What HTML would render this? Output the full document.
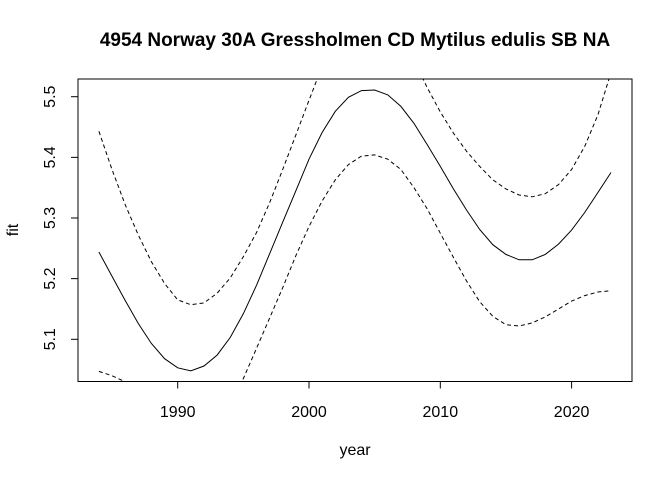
<!DOCTYPE html>
<html><head><meta charset="utf-8"><style>
html,body{margin:0;padding:0;background:#fff;}
svg{display:block;font-family:"Liberation Sans",Arial,sans-serif;}
</style></head><body>
<svg id="chart" width="672" height="480">
<defs><clipPath id="pc"><rect x="78" y="79" width="554" height="302.5"/></clipPath></defs>
<text x="355" y="46" text-anchor="middle" font-size="19" font-weight="bold">4954 Norway 30A Gressholmen CD Mytilus edulis SB NA</text>
<rect x="78" y="79" width="554" height="302.5" fill="none" stroke="#000" stroke-width="1"/>
<g id="xaxis"></g>
<g id="yaxis"></g>
<text x="355" y="455" text-anchor="middle" font-size="16">year</text>
<text x="0" y="0" transform="translate(18,230) rotate(-90)" text-anchor="middle" font-size="16">fit</text>
<g id="series" clip-path="url(#pc)"></g>
</svg>
<script>
const years=[1984,1985,1986,1987,1988,1989,1990,1991,1992,1993,1994,1995,1996,1997,1998,1999,2000,2001,2002,2003,2004,2005,2006,2007,2008,2009,2010,2011,2012,2013,2014,2015,2016,2017,2018,2019,2020,2021,2022,2023];
const fitValues=[5.244,5.204,5.164,5.126,5.093,5.068,5.053,5.048,5.056,5.074,5.103,5.142,5.189,5.241,5.293,5.345,5.397,5.441,5.476,5.499,5.510,5.511,5.503,5.484,5.456,5.421,5.385,5.348,5.313,5.281,5.256,5.240,5.231,5.231,5.240,5.257,5.280,5.309,5.342,5.375];
const upperValues=[5.443,5.38,5.322,5.272,5.228,5.192,5.165,5.157,5.160,5.176,5.201,5.236,5.276,5.325,5.380,5.437,5.494,5.55,5.60,5.63,5.645,5.645,5.63,5.60,5.56,5.515,5.475,5.44,5.41,5.385,5.363,5.348,5.338,5.335,5.340,5.355,5.380,5.418,5.47,5.54];
const lowerValues=[5.047,5.040,5.030,5.018,5.005,4.992,4.982,4.976,4.978,4.988,5.005,5.035,5.085,5.135,5.185,5.238,5.286,5.328,5.363,5.388,5.402,5.404,5.397,5.380,5.350,5.315,5.275,5.235,5.196,5.162,5.138,5.124,5.122,5.127,5.137,5.150,5.163,5.172,5.178,5.180];
const xTicks=[1990,2000,2010,2020];
const yTicks=[5.1,5.2,5.3,5.4,5.5];
const NS='http://www.w3.org/2000/svg';
function xs(v){return 177.7+(v-1990)*13.13;}
function ys(v){return 96.7+(5.5-v)*606.5;}
function mk(tag,attrs,parent){const e=document.createElementNS(NS,tag);for(const k in attrs)e.setAttribute(k,attrs[k]);parent.appendChild(e);return e;}
const xa=document.getElementById('xaxis'),ya=document.getElementById('yaxis'),sg=document.getElementById('series');
mk('line',{x1:xs(xTicks[0]),x2:xs(xTicks[xTicks.length-1]),y1:381.5,y2:381.5,stroke:'#000'},xa);
xTicks.forEach(t=>{
  const l=mk('line',{x1:xs(t),x2:xs(t),y1:381.5,y2:388.5,stroke:'#000'},xa);
  
  
  const tx=mk('text',{x:xs(t),y:417,'text-anchor':'middle','font-size':'16'},xa);
  tx.textContent=t;
  
  
});
mk('line',{x1:78,x2:78,y1:ys(yTicks[0]),y2:ys(yTicks[yTicks.length-1]),stroke:'#000'},ya);
yTicks.forEach(t=>{
  const l=mk('line',{x1:71,x2:78,y1:ys(t),y2:ys(t),stroke:'#000'},ya);
  
  
  const tx=mk('text',{x:0,y:0,transform:`translate(55,${ys(t)}) rotate(-90)`,'text-anchor':'middle','font-size':'16'},ya);
  tx.textContent=t.toFixed(1);
  
  
});
function pts(vals){return years.map((y,i)=>xs(y).toFixed(1)+','+ys(vals[i]).toFixed(1)).join(' ');}
const up=mk('polyline',{points:pts(upperValues),fill:'none',stroke:'#000','stroke-width':1,'stroke-dasharray':'4,3'},sg);


const lo=mk('polyline',{points:pts(lowerValues),fill:'none',stroke:'#000','stroke-width':1,'stroke-dasharray':'4,3'},sg);


const fl=mk('polyline',{points:pts(fitValues),fill:'none',stroke:'#000','stroke-width':1},sg);


</script>
</body></html>
